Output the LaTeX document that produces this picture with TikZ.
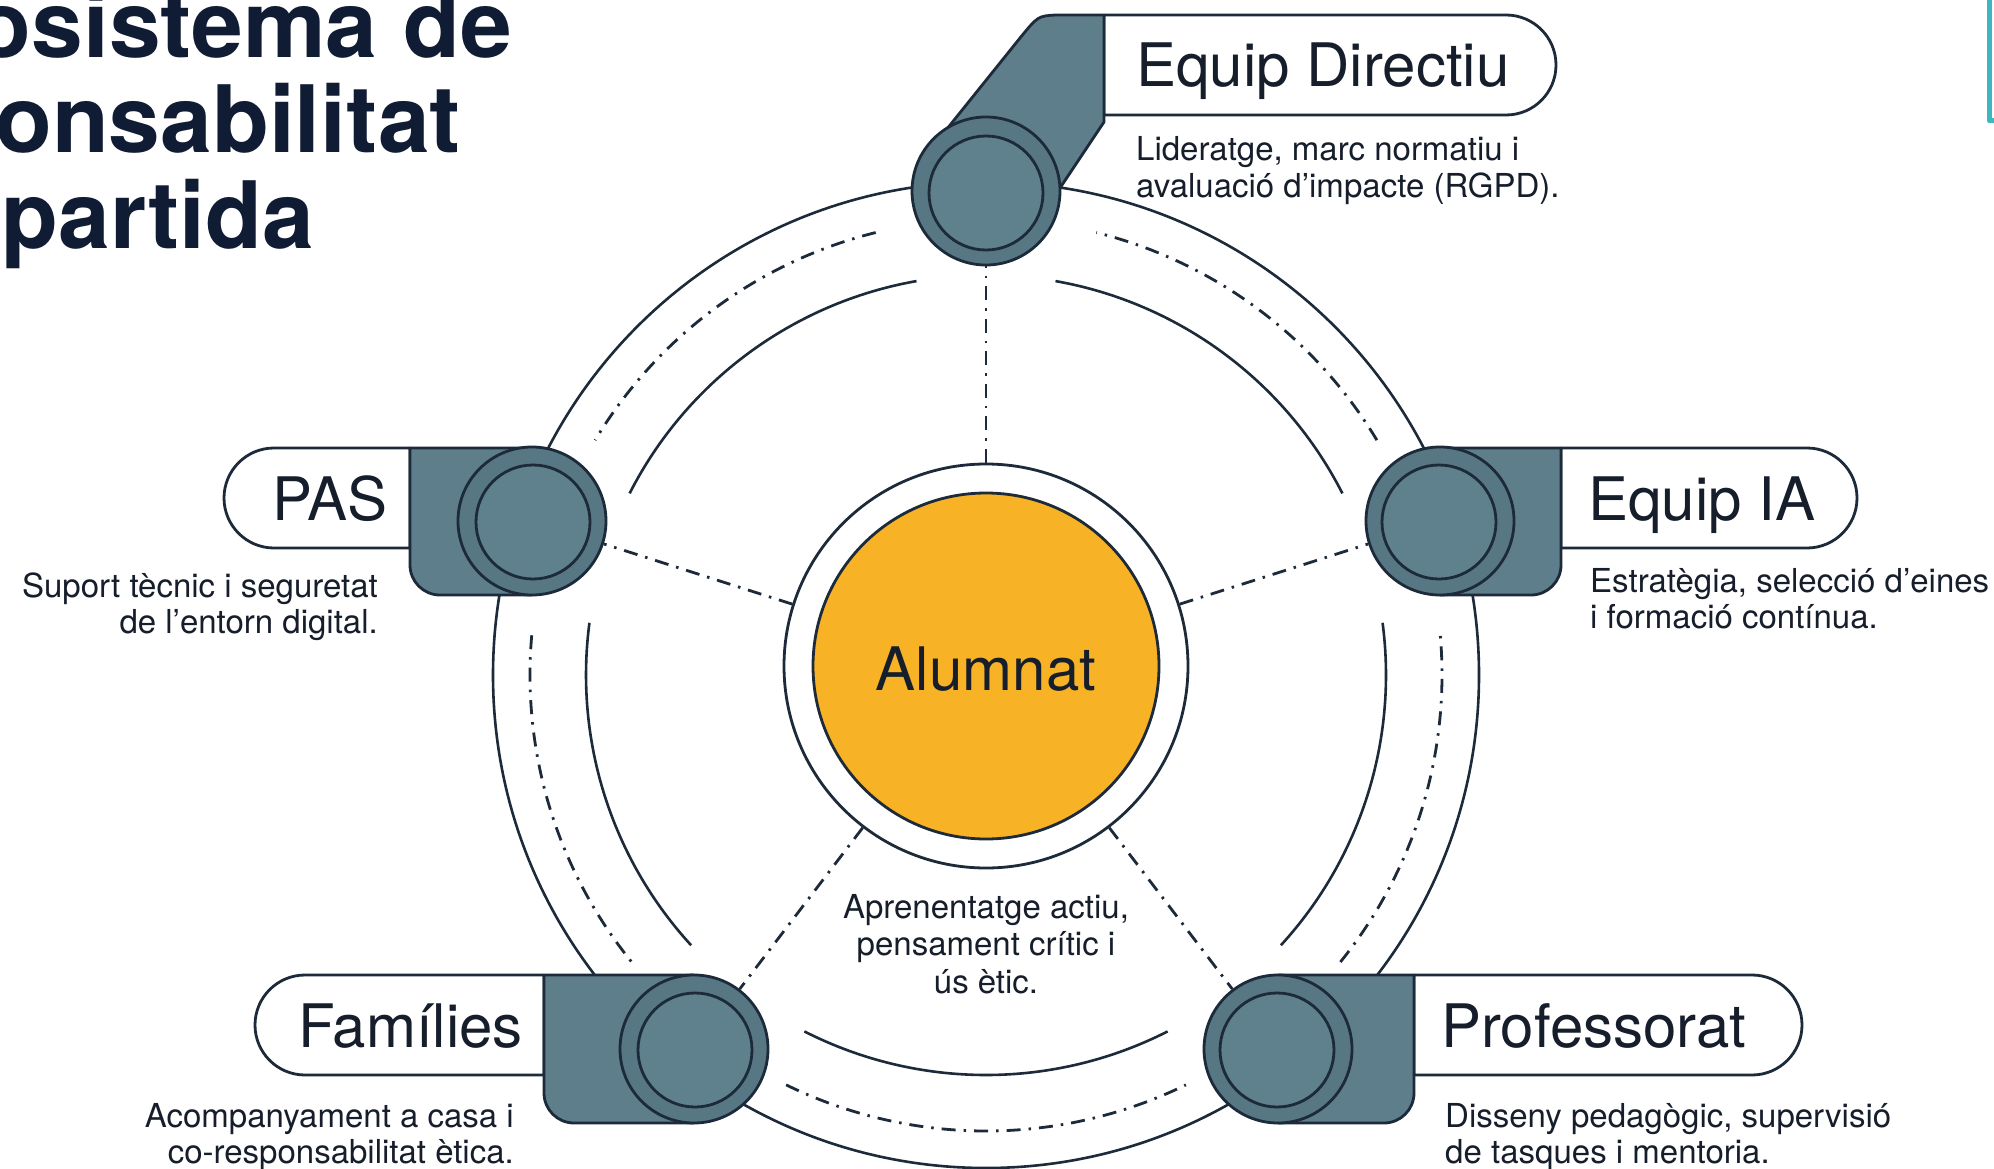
\documentclass[tikz,border=0pt]{standalone}
\usepackage{fontspec}
\setmainfont{TeX Gyre Heros}
\definecolor{ink}{HTML}{1C2A3A}
\definecolor{txt}{HTML}{161D2B}
\definecolor{ttlc}{HTML}{0F1C33}
\definecolor{slate}{HTML}{5E7E8B}
\definecolor{slatedk}{HTML}{577784}
\definecolor{slatein}{HTML}{5F818E}
\definecolor{sun}{HTML}{F8B226}
\definecolor{tealc}{HTML}{3DB7C0}
\begin{document}
\begin{tikzpicture}[x=1pt,y=1pt,line join=round,
 ringline/.style={draw=ink,line width=2.6pt},
 ddline/.style={draw=ink,line width=2.8pt,dash pattern=on 14pt off 8pt on 2.5pt off 8pt},
 tabfill/.style={fill=slate,draw=ink,line width=2.8pt},
 pill/.style={fill=white,draw=ink,line width=2.8pt},
 discout/.style={circle,minimum size=148pt,inner sep=0pt,fill=slatedk,draw=ink,line width=2.8pt},
 discin/.style={circle,minimum size=114pt,inner sep=0pt,fill=slatein,draw=ink,line width=2.8pt},
 lab/.style={font=\fontsize{60}{70}\selectfont,text=txt,inner sep=0pt},
 desc/.style={font=\fontsize{33}{38}\selectfont,text=txt,inner sep=0pt},
 ttl/.style={font=\fontsize{93}{95}\selectfont\bfseries,text=ttlc,inner sep=0pt}
]
\useasboundingbox (0,0) rectangle (1994,-1169);
\clip (0,0) rectangle (1994,-1169);
\fill[white] (0,0) rectangle (1994,-1169);
\coordinate (C) at (986,-666);
\coordinate (R) at (986,-675);

% title (cut at left edge, as in the reference)
\node[ttl,anchor=base east] (t1) at (512,-58) {osistema de};
\node[ttl,anchor=base east] (t2) at (461,-153) {onsabilitat};
\node[ttl,anchor=base east] (t3) at (314,-248) {partida};

% teal frame corner
\draw[tealc,line width=5pt] (1989.5,10) -- (1989.5,-121) -- (2010,-121);

% rings
\draw[ringline] (R) circle[radius=493];
\foreach \a/\b in {104/149,175/219,244/296,321/365,31/76}
  \draw[ddline] (R) ++(\a:456) arc[start angle=\a,end angle=\b,radius=456];
\foreach \a/\b in {100/153,172.5/222.5,243/297,317.5/367.5,27/80}
  \draw[ringline] (R) ++(\a:400) arc[start angle=\a,end angle=\b,radius=400];

% Equip Directiu
\draw[pill] (1104,-15) -- (1506,-15) arc[start angle=90,end angle=-90,radius=50] -- (1104,-115) -- cycle;
\draw[tabfill] (1104,-15) -- (1104,-122) -- (1052,-200) -- (930,-150) -- (1020,-38) .. controls (1038,-16) .. (1056,-15) -- cycle;
% PAS
\draw[pill] (410,-448) -- (274,-448) arc[start angle=90,end angle=270,radius=50] -- (410,-548) -- cycle;
\draw[tabfill] (410,-448) -- (532,-448) -- (532,-595) -- (440,-595) arc[start angle=270,end angle=180,radius=30] -- cycle;
% Equip IA
\draw[pill] (1561,-448) -- (1807,-448) arc[start angle=90,end angle=-90,radius=50] -- (1561,-548) -- cycle;
\draw[tabfill] (1440,-448) -- (1561,-448) -- (1561,-565) arc[start angle=0,end angle=-90,radius=30] -- (1440,-595) -- cycle;
% Families
\draw[pill] (544,-975) -- (305,-975) arc[start angle=90,end angle=270,radius=50] -- (544,-1075) -- cycle;
\draw[tabfill] (544,-975) -- (694,-975) -- (694,-1123) -- (574,-1123) arc[start angle=270,end angle=180,radius=30] -- cycle;
% Professorat
\draw[pill] (1414,-975) -- (1752,-975) arc[start angle=90,end angle=-90,radius=50] -- (1414,-1075) -- cycle;
\draw[tabfill] (1278,-975) -- (1414,-975) -- (1414,-1093) arc[start angle=0,end angle=-90,radius=30] -- (1278,-1123) -- cycle;

% discs
\node[discout] (dED) at (986,-191) {};
\node[discin] (iED) at (986,-193) {};
\node[discout] (dPAS) at (532,-521) {};
\node[discin] (iPAS) at (533,-522) {};
\node[discout] (dIA) at (1440,-521) {};
\node[discin] (iIA) at (1439,-522) {};
\node[discout] (dFAM) at (694,-1049) {};
\node[discin] (iFAM) at (695,-1050) {};
\node[discout] (dPRO) at (1278,-1049) {};
\node[discin] (iPRO) at (1277,-1050) {};

% centre
\node[circle,minimum size=404pt,inner sep=0pt,fill=white,draw=ink,line width=2.8pt] (alring) at (C) {};
\node[circle,minimum size=346pt,inner sep=0pt,fill=sun,draw=ink,line width=2.8pt] (alum) at (C) {};
\node[lab,anchor=base] (alumtxt) at (986,-690) {Alumnat};

% connectors
\draw[ddline] (alring) -- (dED);
\draw[ddline] (alring) -- (dPAS);
\draw[ddline] (alring) -- (dIA);
\draw[ddline] (alring) -- (dFAM);
\draw[ddline] (alring) -- (dPRO);

% labels
\node[lab,anchor=base west] (lED) at (1136,-87) {Equip Directiu};
\node[desc,anchor=base west] (dsED1) at (1136,-161) {Lideratge, marc normatiu i};
\node[desc,anchor=base west] (dsED2) at (1136,-197) {avaluació d'impacte (RGPD).};

\node[lab,anchor=base west] (lPAS) at (272,-520) {PAS};
\node[desc,anchor=base east] (dsPAS1) at (378,-597) {Suport tècnic i seguretat};
\node[desc,anchor=base east] (dsPAS2) at (378,-633) {de l'entorn digital.};

\node[lab,anchor=base west] (lIA) at (1588,-520) {Equip IA};
\node[desc,anchor=base west] (dsIA1) at (1590,-592) {Estratègia, selecció d’eines};
\node[desc,anchor=base west] (dsIA2) at (1590,-628) {i formació contínua.};

\node[lab,anchor=base west] (lFAM) at (298,-1047) {Famílies};
\node[desc,anchor=base east] (dsFAM1) at (514,-1127) {Acompanyament a casa i};
\node[desc,anchor=base east] (dsFAM2) at (514,-1163) {co-responsabilitat ètica.};

\node[lab,anchor=base west] (lPRO) at (1441,-1047) {Professorat};
\node[desc,anchor=base west] (dsPRO1) at (1445,-1127) {Disseny pedagògic, supervisió};
\node[desc,anchor=base west] (dsPRO2) at (1445,-1163) {de tasques i mentoria.};

\node[desc,anchor=base] (dsAl1) at (986,-918) {Aprenentatge actiu,};
\node[desc,anchor=base] (dsAl2) at (986,-955) {pensament crític i};
\node[desc,anchor=base] (dsAl3) at (986,-993) {ús ètic.};
\end{tikzpicture}
\end{document}
